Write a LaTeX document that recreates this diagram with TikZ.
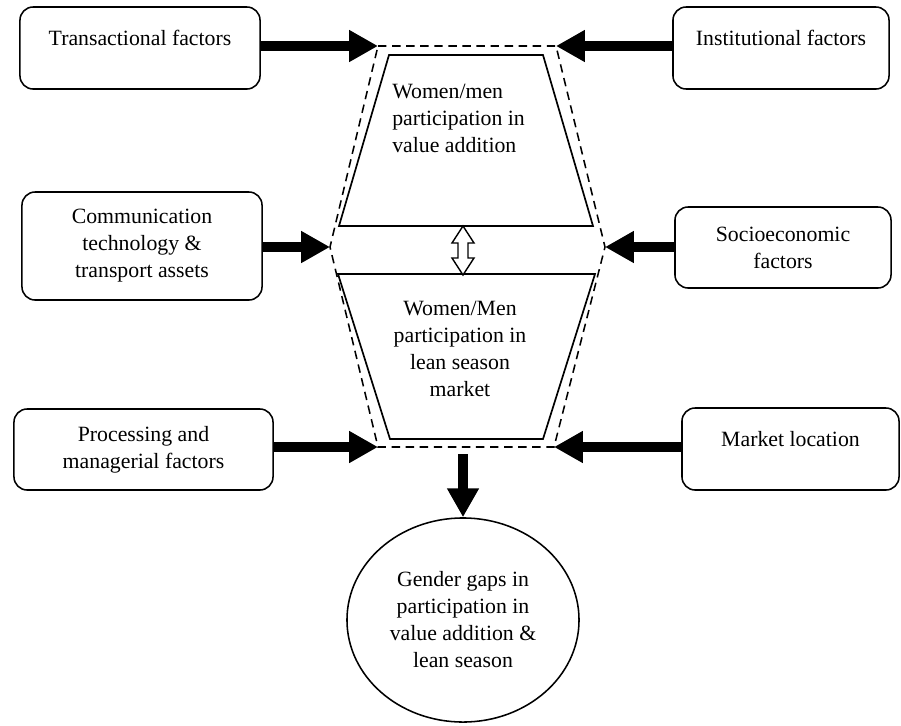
\documentclass[tikz,border=0pt]{standalone}
\usepackage{fontspec}
\setmainfont{Liberation Serif}
\usetikzlibrary{positioning, arrows.meta, shapes.geometric}

\begin{document}
\begin{tikzpicture}[x=0.025cm, y=-0.025cm,
  font=\fontsize{15.5}{19.2}\selectfont,
  factor node/.style={draw, rounded corners=0.33cm, line width=1.1pt, align=center, inner sep=0pt},
  one line/.style={text depth=15pt},
  big arrow/.style={line width=0.25cm, -{Triangle[length=0.72cm, width=0.75cm]}},
  trap/.style={line width=1.2pt, line join=miter},
  hex/.style={dash pattern=on 6pt off 4pt, line width=1.1pt}]

\useasboundingbox (0,0) rectangle (901,725);

\node[factor node, one line, minimum width=6cm, minimum height=2.05cm] (T) at (140,48) {Transactional factors};
\node[factor node, minimum width=6cm, minimum height=2.7cm] (C) at (142,246) {Communication\\technology \&\\transport assets};
\node[factor node, minimum width=6.475cm, minimum height=2.025cm] (P) at (143.5,449.5) {Processing and\\managerial factors};

\node[factor node, one line, minimum width=5.4cm, minimum height=2.05cm] (I) at (781,48) {Institutional factors};
\node[factor node, minimum width=5.4cm, minimum height=2.025cm] (S) at (783,247.5) {Socioeconomic\\factors};
\node[factor node, one line, minimum width=5.425cm, minimum height=2.05cm] (M) at (790.5,449) {Market location};

\coordinate (hexTL) at (378,46);
\coordinate (hexTR) at (556,46);
\coordinate (hexR) at (605,247);
\coordinate (hexBR) at (554,447);
\coordinate (hexBL) at (378,447);
\coordinate (hexL) at (330,247);
\draw[hex] (hexTL) -- (hexTR) -- (hexR) -- (hexBR) -- (hexBL) -- (hexL) -- cycle;

\draw[trap] (389,55) -- (543,55) -- (593,226) -- (339,226) -- cycle;
\draw[trap] (338,274) -- (595,274) -- (543,439) -- (390,439) -- cycle;

\node[align=left, inner sep=0pt, anchor=north west] (upper) at (392,84) {Women/men\\participation in\\value addition};
\node[align=center, inner sep=0pt] (lower) at (460,349) {Women/Men\\participation in\\lean season\\market};

\draw[line width=1pt, fill=white, line join=miter, shift={(463,250.5)}]
  (0,-24.5) -- (11,-7.5) -- (5,-7.5) -- (5,7.5) -- (11,7.5) -- (0,24.5)
  -- (-11,7.5) -- (-5,7.5) -- (-5,-7.5) -- (-11,-7.5) -- cycle;

\node[draw, ellipse, line width=1.1pt, align=center, inner sep=0pt,
  minimum width=5.8cm, minimum height=5.1cm] (G) at (463,620)
  {Gender gaps in\\participation in\\value addition \&\\lean season};

\draw[big arrow] (T.east |- hexTL) -- (hexTL);
\draw[big arrow] (C.east |- hexL) -- (hexL);
\draw[big arrow] (P.east |- hexBL) -- (hexBL);
\draw[big arrow] (I.west |- hexTR) -- (hexTR);
\draw[big arrow] (S.west |- hexR) -- (hexR);
\draw[big arrow] (M.west |- hexBR) -- (hexBR);
\draw[big arrow, shorten <=5] (hexBL -| G.north) -- (G.north);
\end{tikzpicture}
\end{document}
